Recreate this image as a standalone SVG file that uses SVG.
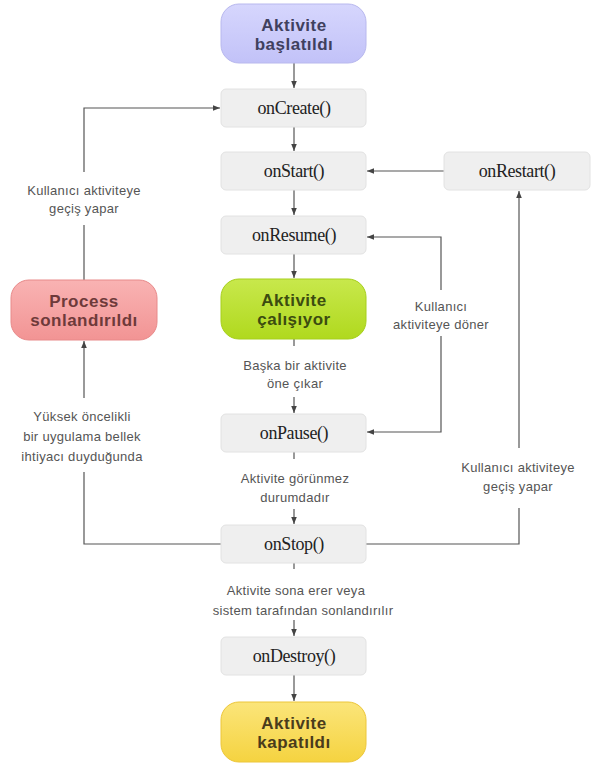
<svg xmlns="http://www.w3.org/2000/svg" width="599" height="767" viewBox="0 0 599 767">
<defs>
<linearGradient id="gPurple" x1="0" y1="0" x2="0" y2="1"><stop offset="0" stop-color="#d6d6fd"/><stop offset="1" stop-color="#c2c2f8"/></linearGradient>
<linearGradient id="gGreen" x1="0" y1="0" x2="0" y2="1"><stop offset="0" stop-color="#c8e84c"/><stop offset="1" stop-color="#b0d91e"/></linearGradient>
<linearGradient id="gPink" x1="0" y1="0" x2="0" y2="1"><stop offset="0" stop-color="#f9b3b3"/><stop offset="1" stop-color="#f29494"/></linearGradient>
<linearGradient id="gYellow" x1="0" y1="0" x2="0" y2="1"><stop offset="0" stop-color="#fbe57a"/><stop offset="1" stop-color="#f5d340"/></linearGradient>
<marker id="arr" viewBox="0 0 8 8" refX="8" refY="4" markerWidth="7" markerHeight="7" markerUnits="userSpaceOnUse" orient="auto">
<path d="M0,0.8 L8,4 L0,7.2 z" fill="#444"/>
</marker>
</defs>
<style>
.box{fill:#efefef;stroke:#e2e2e2;stroke-width:1}
.fn{font-family:"Liberation Serif","Times New Roman",serif;font-size:18px;fill:#222;text-anchor:middle;letter-spacing:-0.4px}
.st{font-family:"Liberation Sans",Arial,sans-serif;font-size:17px;font-weight:bold;text-anchor:middle;letter-spacing:0.5px}
.lb{font-family:"Liberation Sans",Arial,sans-serif;font-size:13px;fill:#555;text-anchor:middle;letter-spacing:0.3px}
.ln{fill:none;stroke:#555;stroke-width:1.2}
</style>
<rect width="599" height="767" fill="#ffffff"/>

<g id="connectors">
<path class="ln" d="M294,63 V88" marker-end="url(#arr)"/>
<path class="ln" d="M294,127 V151" marker-end="url(#arr)"/>
<path class="ln" d="M294,190 V215" marker-end="url(#arr)"/>
<path class="ln" d="M294,254 V278" marker-end="url(#arr)"/>
<path class="ln" d="M294,339 V346"/>
<path class="ln" d="M294,397 V413" marker-end="url(#arr)"/>
<path class="ln" d="M294,452 V459"/>
<path class="ln" d="M294,509 V524" marker-end="url(#arr)"/>
<path class="ln" d="M294,563 V569"/>
<path class="ln" d="M294,620 V636" marker-end="url(#arr)"/>
<path class="ln" d="M294,675 V701" marker-end="url(#arr)"/>
<path class="ln" d="M444,171 H367" marker-end="url(#arr)"/>
<path class="ln" d="M366,544 H519 V508"/>
<path class="ln" d="M519,448 V191" marker-end="url(#arr)"/>
<path class="ln" d="M441,290 V237 H367" marker-end="url(#arr)"/>
<path class="ln" d="M441,336 V432 H367" marker-end="url(#arr)"/>
<path class="ln" d="M84,280 V225"/>
<path class="ln" d="M84,172 V108 H220" marker-end="url(#arr)"/>
<path class="ln" d="M221,544 H84 V472"/>
<path class="ln" d="M84,398 V341" marker-end="url(#arr)"/>
</g>

<g id="labels">
<text class="lb" x="84" y="195">Kullanıcı aktiviteye</text>
<text class="lb" x="84" y="213">geçiş yapar</text>
<text class="lb" x="82" y="421">Yüksek öncelikli</text>
<text class="lb" x="82" y="441">bir uygulama bellek</text>
<text class="lb" x="82" y="461">ihtiyacı duyduğunda</text>
<text class="lb" x="441" y="311">Kullanıcı</text>
<text class="lb" x="441" y="329">aktiviteye döner</text>
<text class="lb" x="518" y="472">Kullanıcı aktiviteye</text>
<text class="lb" x="518" y="491">geçiş yapar</text>
<text class="lb" x="295" y="370">Başka bir aktivite</text>
<text class="lb" x="295" y="388">öne çıkar</text>
<text class="lb" x="295" y="483">Aktivite görünmez</text>
<text class="lb" x="295" y="502">durumdadır</text>
<text class="lb" x="296" y="595">Aktivite sona erer veya</text>
<text class="lb" x="303" y="615">sistem tarafından sonlandırılır</text>
</g>

<g id="start">
<rect x="221" y="4" width="145" height="59" rx="18" fill="url(#gPurple)" stroke="#b8b8ee"/>
<text class="st" x="294" y="31" fill="#40405e">Aktivite</text>
<text class="st" x="294" y="50" fill="#40405e">başlatıldı</text>
</g>
<g id="onCreate">
<rect class="box" x="221" y="89" width="145" height="38" rx="5"/>
<text class="fn" x="294" y="114">onCreate()</text>
</g>
<g id="onStart">
<rect class="box" x="221" y="152" width="145" height="38" rx="5"/>
<text class="fn" x="294" y="177">onStart()</text>
</g>
<g id="onRestart">
<rect class="box" x="444" y="152" width="146" height="38" rx="5"/>
<text class="fn" x="517" y="177">onRestart()</text>
</g>
<g id="onResume">
<rect class="box" x="221" y="216" width="145" height="38" rx="5"/>
<text class="fn" x="294" y="241">onResume()</text>
</g>
<g id="running">
<rect x="221" y="279" width="145" height="60" rx="18" fill="url(#gGreen)" stroke="#a6cf1c"/>
<text class="st" x="294" y="306" fill="#3c4c10">Aktivite</text>
<text class="st" x="294" y="325" fill="#3c4c10">çalışıyor</text>
</g>
<g id="process">
<rect x="11" y="280" width="146" height="60" rx="18" fill="url(#gPink)" stroke="#e88a8a"/>
<text class="st" x="84" y="307" fill="#6e3a3a">Process</text>
<text class="st" x="84" y="326" fill="#6e3a3a">sonlandırıldı</text>
</g>
<g id="onPause">
<rect class="box" x="221" y="414" width="145" height="38" rx="5"/>
<text class="fn" x="294" y="439">onPause()</text>
</g>
<g id="onStop">
<rect class="box" x="221" y="525" width="145" height="38" rx="5"/>
<text class="fn" x="294" y="550">onStop()</text>
</g>
<g id="onDestroy">
<rect class="box" x="221" y="637" width="145" height="38" rx="5"/>
<text class="fn" x="294" y="662">onDestroy()</text>
</g>
<g id="end">
<rect x="221" y="702" width="145" height="60" rx="18" fill="url(#gYellow)" stroke="#ecc63a"/>
<text class="st" x="294" y="729" fill="#4a3c1c">Aktivite</text>
<text class="st" x="294" y="748" fill="#4a3c1c">kapatıldı</text>
</g>
</svg>
